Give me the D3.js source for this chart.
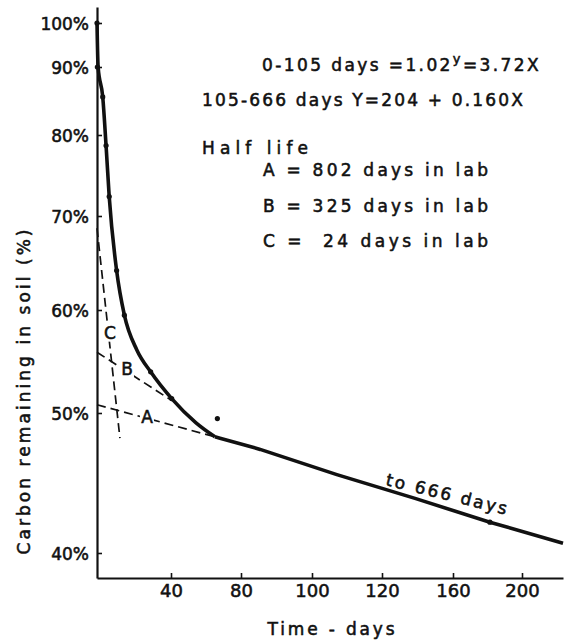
<!DOCTYPE html>
<html>
<head>
<meta charset="utf-8">
<script src="https://cdn.jsdelivr.net/npm/d3@7"></script>
<style>
  body { margin: 0; background: #fff; }
  text { font-family: "DejaVu Sans", "Liberation Sans", sans-serif; fill: #111; }
  .heavy { stroke: #111; stroke-width: 0.55px; }
</style>
</head>
<body>
<svg id="chart"></svg>
<script>
// tick labels as printed on the figure (the axes are not evenly scaled)
var xTicks = [40, 80, 100, 120, 160, 200];
var yTicks = [40, 50, 60, 70, 80, 90, 100];

// fitted curve, 0-65 days (days, % carbon left)
var curveDays = [0, 0.6, 3.1, 4.9, 6.6, 10.6, 14.8, 21.6, 29, 40.4, 54.3, 65.1];
var curvePct  = [100, 90, 85.6, 78.7, 72.4, 64.2, 59.5, 56.1, 54.0, 51.4, 49.3, 48.3];

// slow phase line
var slowDays = [65.1, 68, 85.4, 107.1, 138.6, 181.4, 224];
var slowPct  = [48.3, 48.2, 47.4, 45.6, 43.9, 42.2, 40.7];

// measured points
var obsDays = [0, 0.2, 3.1, 4.9, 6.6, 10.6, 14.8, 29, 40.4, 66.5, 181.4];
var obsPct  = [100, 90, 85.6, 78.7, 72.4, 64.2, 59.5, 54.0, 51.4, 49.6, 42.2];

// half-life tangents
var tangentNames = ["A", "B", "C"];
var tangentDays  = [[0, 65.1], [0, 40.5], [0, 12.4]];
var tangentPct   = [[50.8, 48.3], [55.9, 51.2], [68.7, 48.2]];
var tangentLabelDays = [27, 16.2, 7];
var tangentLabelPct  = [49.7, 54.3, 57.8];

var width = 564, height = 640;

var svg = d3.select("#chart")
    .attr("width", width)
    .attr("height", height);

// piecewise scales, one segment per printed tick
var x = d3.scaleLinear()
    .domain([0, 40, 80, 100, 120, 160, 200, 224])
    .range([97, 171, 241, 312, 382, 453, 522, 563]);

var y = d3.scaleLinear()
    .domain([38.2, 40, 50, 60, 70, 80, 90, 100, 103.6])
    .range([578, 553, 413, 310, 216, 135, 67, 23, 7]);

// axes
var gx = svg.append("g")
    .attr("transform", "translate(0," + y(38.2) + ")")
    .call(d3.axisBottom(x)
        .tickValues(xTicks)
        .tickSizeInner(-5)
        .tickSizeOuter(0)
        .tickPadding(6));
gx.select(".domain").attr("stroke-width", 2.2).attr("stroke", "#111");
gx.selectAll(".tick line").attr("stroke-width", 1.6).attr("stroke", "#111");
gx.selectAll(".tick text")
    .attr("class", "heavy")
    .style("font-size", "18px")
    .style("font-family", "DejaVu Sans, sans-serif")
    .attr("fill", "#111");

var gy = svg.append("g")
    .attr("transform", "translate(" + x(0) + ",0)")
    .call(d3.axisLeft(y)
        .tickValues(yTicks)
        .tickFormat(function(d) { return d + "%"; })
        .tickSizeInner(-5)
        .tickSizeOuter(0)
        .tickPadding(8));
gy.select(".domain").attr("stroke-width", 2.2).attr("stroke", "#111");
gy.selectAll(".tick line").attr("stroke-width", 1.6).attr("stroke", "#111");
gy.selectAll(".tick text")
    .attr("class", "heavy")
    .style("font-size", "17px")
    .style("font-family", "DejaVu Sans, sans-serif")
    .attr("fill", "#111")
    .attr("dy", "0.38em");

svg.append("text")
    .attr("class", "heavy")
    .attr("transform", "translate(30,392) rotate(-90)")
    .attr("text-anchor", "middle")
    .attr("textLength", 325)
    .attr("lengthAdjust", "spacing")
    .style("font-size", "17px")
    .text("Carbon remaining in soil (%)");

svg.append("text")
    .attr("class", "heavy")
    .attr("x", 331)
    .attr("y", 635)
    .attr("text-anchor", "middle")
    .attr("textLength", 127)
    .attr("lengthAdjust", "spacing")
    .style("font-size", "17px")
    .text("Time - days");

// tangent lines
var tangents = tangentNames.map(function(n, i) {
    return { name: n, days: tangentDays[i], pct: tangentPct[i],
             lx: tangentLabelDays[i], ly: tangentLabelPct[i] };
});

svg.selectAll(".tangent")
    .data(tangents)
    .enter().append("line")
    .attr("class", "tangent")
    .attr("x1", function(d) { return x(d.days[0]); })
    .attr("y1", function(d) { return y(d.pct[0]); })
    .attr("x2", function(d) { return x(d.days[1]); })
    .attr("y2", function(d) { return y(d.pct[1]); })
    .attr("stroke", "#111")
    .attr("stroke-width", 1.7)
    .attr("stroke-dasharray", "9,5");

// white patch behind each letter, then the letter
svg.selectAll(".tpatch")
    .data(tangents)
    .enter().append("rect")
    .attr("class", "tpatch")
    .attr("x", function(d) { return x(d.lx) - 7; })
    .attr("y", function(d) { return y(d.ly) - 9; })
    .attr("width", 14)
    .attr("height", 18)
    .attr("fill", "#fff");

svg.selectAll(".tlabel")
    .data(tangents)
    .enter().append("text")
    .attr("class", "tlabel heavy")
    .attr("x", function(d) { return x(d.lx); })
    .attr("y", function(d) { return y(d.ly); })
    .attr("dy", "0.36em")
    .attr("text-anchor", "middle")
    .style("font-size", "17px")
    .text(function(d) { return d.name; });

// fitted curve + slow phase
var line = d3.line()
    .x(function(d) { return x(d[0]); })
    .y(function(d) { return y(d[1]); });

svg.append("path")
    .datum(d3.zip(curveDays, curvePct))
    .attr("d", line.curve(d3.curveMonotoneX))
    .attr("fill", "none")
    .attr("stroke", "#111")
    .attr("stroke-width", 3.6);

svg.append("path")
    .datum(d3.zip(slowDays, slowPct))
    .attr("d", line.curve(d3.curveLinear))
    .attr("fill", "none")
    .attr("stroke", "#111")
    .attr("stroke-width", 3.6);

svg.selectAll(".obs")
    .data(d3.zip(obsDays, obsPct))
    .enter().append("circle")
    .attr("class", "obs")
    .attr("cx", function(d) { return x(d[0]); })
    .attr("cy", function(d) { return y(d[1]); })
    .attr("r", 2.6)
    .attr("fill", "#111");

svg.append("text")
    .attr("class", "heavy")
    .attr("transform", "translate(385,485) rotate(13.8)")
    .attr("textLength", 124)
    .attr("lengthAdjust", "spacing")
    .style("font-size", "17px")
    .text("to 666 days");

// equations and half lives
var eq1 = svg.append("text")
    .attr("class", "heavy")
    .attr("x", 262)
    .attr("y", 71)
    .style("font-size", "17px")
    .style("letter-spacing", "2.4px");
eq1.append("tspan").text("0-105 days =1.02");
eq1.append("tspan").attr("dy", -8).style("font-size", "13px").text("y");
eq1.append("tspan").attr("dy", 8).text("=3.72X");

var notes = [
    { t: "105-666 days Y=204 + 0.160X", x: 202, y: 106, w: 321 },
    { t: "Half life", x: 202, y: 154, w: 106 },
    { t: "A = 802 days in lab", x: 263, y: 176, w: 225 },
    { t: "B = 325 days in lab", x: 263, y: 212, w: 225 },
    { t: "C =  24 days in lab", x: 263, y: 247, w: 225 }
];

svg.selectAll(".note")
    .data(notes)
    .enter().append("text")
    .attr("class", "note heavy")
    .attr("x", function(d) { return d.x; })
    .attr("y", function(d) { return d.y; })
    .attr("textLength", function(d) { return d.w; })
    .attr("lengthAdjust", "spacing")
    .attr("xml:space", "preserve")
    .style("white-space", "pre")
    .style("font-size", "17px")
    .text(function(d) { return d.t; });
</script>
</body>
</html>
